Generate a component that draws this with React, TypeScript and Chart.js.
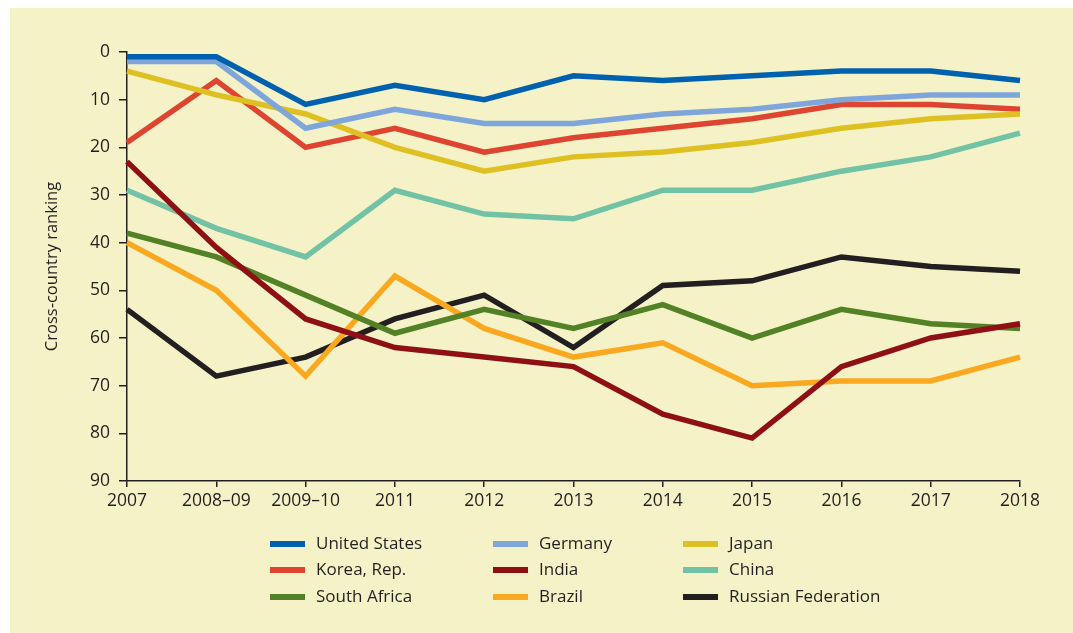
import React, { useEffect, useRef } from "react";
import { Chart, registerables } from "chart.js";

Chart.register(...registerables);

const categories = ["2007", "2008–09", "2009–10", "2011", "2012", "2013", "2014", "2015", "2016", "2017", "2018"];

const unitedStates = [1, 1, 11, 7, 10, 5, 6, 5, 4, 4, 6];
const germany = [2, 2, 16, 12, 15, 15, 13, 12, 10, 9, 9];
const japan = [4, 9, 13, 20, 25, 22, 21, 19, 16, 14, 13];
const korea = [19, 6, 20, 16, 21, 18, 16, 14, 11, 11, 12];
const india = [23, 41, 56, 62, 64, 66, 76, 81, 66, 60, 57];
const china = [29, 37, 43, 29, 34, 35, 29, 29, 25, 22, 17];
const southAfrica = [38, 43, 51, 59, 54, 58, 53, 60, 54, 57, 58];
const brazil = [40, 50, 68, 47, 58, 64, 61, 70, 69, 69, 64];
const russia = [54, 68, 64, 56, 51, 62, 49, 48, 43, 45, 46];

const seriesNames = [
  "United States", "Germany", "Japan",
  "Korea, Rep.", "India", "China",
  "South Africa", "Brazil", "Russian Federation",
];
const seriesValues = [unitedStates, germany, japan, korea, india, china, southAfrica, brazil, russia];
const seriesColors = [
  "#0061AE", "#7EA6DA", "#DFC022",
  "#DD4531", "#8F1014", "#72C2A6",
  "#538126", "#F9A81F", "#231F20",
];

const yMin = 0;
const yMax = 90;
const yStep = 10;
const yTitle = "Cross-country ranking";

const TEXT = "#231F20";
const FONT = "'Open Sans', 'Noto Sans', sans-serif";

const legendColX = [260, 483, 673];
const legendRowY = [536, 562, 589];

const gridLegend = {
  id: "gridLegend",
  afterDraw(chart: any) {
    const ctx = chart.ctx;
    chart.data.datasets.forEach((ds: any, i: number) => {
      const col = i % 3;
      const row = Math.floor(i / 3);
      const x = legendColX[col];
      const y = legendRowY[row];
      ctx.save();
      ctx.strokeStyle = ds.borderColor;
      ctx.lineWidth = 6;
      ctx.lineCap = "butt";
      ctx.beginPath();
      ctx.moveTo(x, y);
      ctx.lineTo(x + 35, y);
      ctx.stroke();
      ctx.fillStyle = TEXT;
      ctx.font = `17px ${FONT}`;
      ctx.textBaseline = "middle";
      ctx.textAlign = "left";
      ctx.fillText(ds.label, x + 46, y);
      ctx.restore();
    });
  },
};

export default function App() {
  const canvasRef = useRef<HTMLCanvasElement | null>(null);

  useEffect(() => {
    const canvas = canvasRef.current;
    if (!canvas) return;
    const chart = new Chart(canvas, {
      type: "line",
      data: {
        labels: categories,
        datasets: seriesNames.map((name, i) => ({
          label: name,
          data: seriesValues[i],
          borderColor: seriesColors[i],
          backgroundColor: seriesColors[i],
          borderWidth: 5.5,
          pointRadius: 0,
          tension: 0,
          fill: false,
          borderJoinStyle: "miter" as const,
          borderCapStyle: "butt" as const,
        })),
      },
      options: {
        responsive: false,
        animation: false,
        layout: { padding: { left: 0, top: 44, right: 53, bottom: 0 } },
        plugins: {
          legend: { display: false },
          tooltip: { enabled: false },
        },
        scales: {
          x: {
            type: "category",
            offset: false,
            grid: { drawOnChartArea: false, drawTicks: true, tickLength: 6, color: TEXT, lineWidth: 1.5 },
            border: { color: TEXT, width: 1.5 },
            ticks: {
              color: TEXT,
              font: { family: FONT, size: 17.5 },
              padding: 4,
              maxRotation: 0,
              autoSkip: false,
            },
            afterFit: (s: any) => {
              s.height = 152;
            },
          },
          y: {
            reverse: true,
            min: yMin,
            max: yMax,
            grid: { drawOnChartArea: false, drawTicks: true, tickLength: 8, color: TEXT, lineWidth: 1.5 },
            border: { color: TEXT, width: 1.5 },
            ticks: {
              stepSize: yStep,
              color: TEXT,
              font: { family: FONT, size: 17.5 },
              padding: 9,
            },
            title: {
              display: true,
              text: yTitle,
              color: TEXT,
              font: { family: FONT, size: 16.5 },
              padding: { top: 32, bottom: 0 },
            },
            afterFit: (s: any) => {
              s.width = 117;
            },
          },
        },
      },
      plugins: [gridLegend],
    });
    return () => chart.destroy();
  }, []);

  return (
    <div style={{ position: "absolute", left: 0, top: 0, width: 1073, height: 633, background: "#ffffff", overflow: "hidden" }}>
      <div style={{ position: "absolute", left: 10, top: 8, width: 1063, height: 625, background: "#F5F2C8" }}>
        <canvas ref={canvasRef} width={1063} height={625} style={{ display: "block", width: 1063, height: 625 }} />
      </div>
    </div>
  );
}
